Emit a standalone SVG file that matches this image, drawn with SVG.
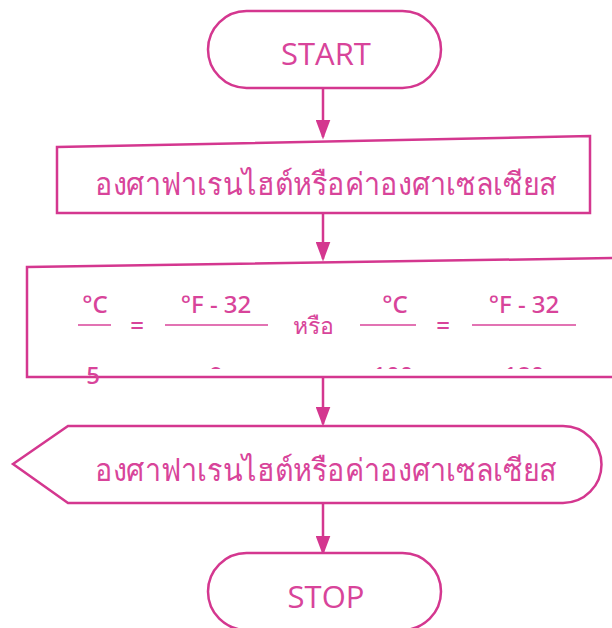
<svg xmlns="http://www.w3.org/2000/svg" width="612" height="628" viewBox="0 0 612 628">
<defs>
<style>
.s{fill:#fff;stroke:#d4378f;stroke-width:2.5}
.c{stroke:#d4378f;stroke-width:2.5;fill:none}
.t{fill:#d8449a;font-family:"Open Sans","Noto Sans","DejaVu Sans",sans-serif;text-anchor:middle}
.f{fill:#d8449a;font-family:"Noto Sans","Open Sans","DejaVu Sans",sans-serif;text-anchor:middle;font-size:24px;font-weight:500}
.fl{stroke:#d8449a;stroke-width:1.3}
</style>
<marker id="ah" markerWidth="8" markerHeight="6" refX="7" refY="3" orient="auto" markerUnits="strokeWidth">
<path d="M0,0 L8,3 L0,6 z" fill="#d4378f"/>
</marker>
<clipPath id="clipbox"><rect x="0" y="0" width="612" height="369"/></clipPath>
</defs>
<g id="connectors">
<line class="c" x1="323" y1="88" x2="323" y2="137" marker-end="url(#ah)"/>
<line class="c" x1="323" y1="213" x2="323" y2="259" marker-end="url(#ah)"/>
<line class="c" x1="323" y1="377" x2="323" y2="424" marker-end="url(#ah)"/>
<line class="c" x1="323" y1="503" x2="323" y2="553" marker-end="url(#ah)"/>
</g>
<g id="start">
<rect class="s" x="208" y="11" width="233" height="77" rx="38.5"/>
<text class="t" x="326" y="65" font-size="31">START</text>
</g>
<g id="input">
<polygon class="s" points="57,147 590,136 590,213 57,213"/>
<text class="t" x="326" y="195" font-size="31" textLength="462" lengthAdjust="spacingAndGlyphs">องศาฟาเรนไฮต์หรือค่าองศาเซลเซียส</text>
</g>
<g id="process">
<polygon class="s" points="27,267 614,258 614,377 27,377"/>
<text class="f" x="95" y="313">°C</text>
<line class="fl" x1="78" y1="325" x2="111" y2="325"/>
<text class="f" x="137" y="334">=</text>
<text class="f" x="216" y="313">°F - 32</text>
<line class="fl" x1="165" y1="325" x2="268" y2="325"/>
<text class="t" x="313" y="334" font-size="23">หรือ</text>
<text class="f" x="395" y="313">°C</text>
<line class="fl" x1="360" y1="325" x2="416" y2="325"/>
<text class="f" x="443" y="334">=</text>
<text class="f" x="524" y="313">°F - 32</text>
<line class="fl" x1="472" y1="325" x2="576" y2="325"/>
<text class="f" x="93" y="384">5</text>
<g clip-path="url(#clipbox)">
<text class="f" x="216" y="384">9</text>
<text class="f" x="393" y="384">100</text>
<text class="f" x="524" y="384">180</text>
</g>
</g>
<g id="display">
<path class="s" d="M13,464 L68,426 L563,426 A38.5,38.5 0 0 1 563,503 L68,503 Z"/>
<text class="t" x="326" y="481" font-size="31" textLength="462" lengthAdjust="spacingAndGlyphs">องศาฟาเรนไฮต์หรือค่าองศาเซลเซียส</text>
</g>
<g id="stop">
<rect class="s" x="208" y="553" width="233" height="77" rx="38.5"/>
<text class="t" x="326" y="608" font-size="31">STOP</text>
</g>
</svg>
